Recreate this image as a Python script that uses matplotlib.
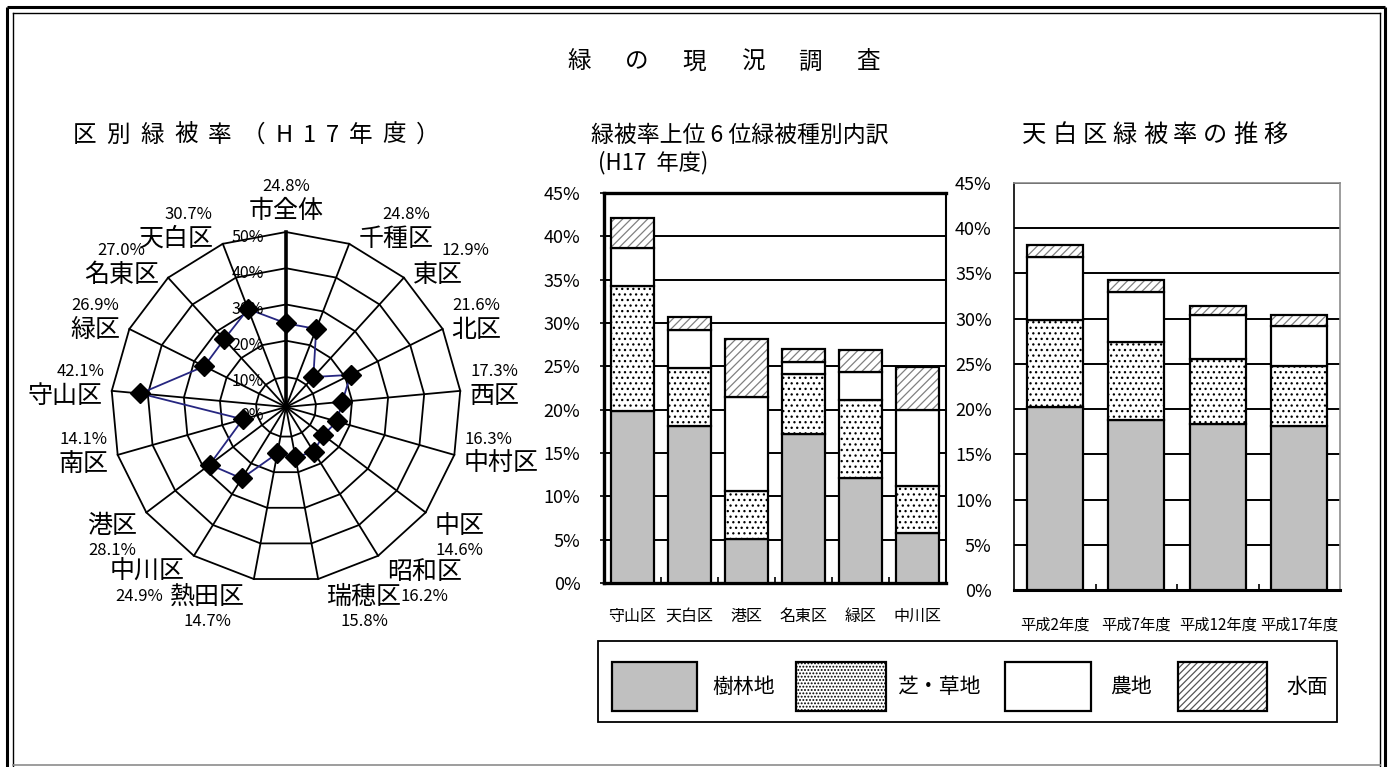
import numpy as np
import matplotlib
matplotlib.use('Agg')
import matplotlib.pyplot as plt
from matplotlib.patches import Rectangle

FONTS = ['Noto Sans CJK JP', 'DejaVu Sans']
plt.rcParams['font.family'] = FONTS
plt.rcParams['hatch.linewidth'] = 0.9
plt.rcParams['axes.unicode_minus'] = False

# ---------------- data ----------------
radar_categories = ['市全体', '千種区', '東区', '北区', '西区', '中村区', '中区', '昭和区',
                    '瑞穂区', '熱田区', '中川区', '港区', '南区', '守山区', '緑区', '名東区', '天白区']
radar_values = [24.8, 24.8, 12.9, 21.6, 17.3, 16.3, 14.6, 16.2,
                15.8, 14.7, 24.9, 28.1, 14.1, 42.1, 26.9, 27.0, 30.7]
radar_ticks = [0, 10, 20, 30, 40, 50]

top6_districts = ['守山区', '天白区', '港区', '名東区', '緑区', '中川区']
top6_forest = [19.9, 18.1, 5.1, 17.2, 12.1, 5.8]
top6_grass = [14.4, 6.7, 5.5, 6.9, 9.0, 5.4]
top6_farm = [4.3, 4.4, 10.9, 1.4, 3.2, 8.8]
top6_water = [3.5, 1.5, 6.6, 1.5, 2.6, 4.9]

tenpaku_years = ['平成2年度', '平成7年度', '平成12年度', '平成17年度']
tenpaku_forest = [20.2, 18.8, 18.4, 18.1]
tenpaku_grass = [9.6, 8.6, 7.1, 6.7]
tenpaku_farm = [7.0, 5.6, 4.9, 4.4]
tenpaku_water = [1.3, 1.3, 1.0, 1.2]

bar_ticks = [0, 5, 10, 15, 20, 25, 30, 35, 40, 45]
legend_labels = ['樹林地', '芝・草地', '農地', '水面']

main_title = '緑の現況調査'
radar_title = '区別緑被率（H17 年度）'
top6_title = '緑被率上位 6 位緑被種別内訳'
top6_subtitle = '(H17  年度)'
tenpaku_title = '天白区緑被率の推移'

FOREST_C = '#c0c0c0'
LINE_C = '#262680'

# ---------------- figure ----------------
W, H, DPI = 1392, 767, 100
fig = plt.figure(figsize=(W / DPI, H / DPI), dpi=DPI)
PT = 72 / DPI  # points per pixel


def fbox(x0, y0, x1, y1):
    return [x0 / W, 1 - y1 / H, (x1 - x0) / W, (y1 - y0) / H]


# ---------------- radar ----------------
cx, cy, R = 286, 407, 175
rax = fig.add_axes(fbox(cx - R, cy - R, cx + R, cy + R), projection='polar')
rax.set_theta_zero_location('N')
rax.set_theta_direction(-1)
R_MIN, R_MAX = 1.7, 50
rax.set_ylim(R_MIN, R_MAX)
rax.set_axis_off()

n = len(radar_categories)
theta = np.arange(n) * 2 * np.pi / n
closed = np.append(theta, theta[0])
for r in radar_ticks[1:]:
    rax.plot(closed, np.full(n + 1, r), color='black', lw=1.3, zorder=1, clip_on=False)
for i, t in enumerate(theta):
    rax.plot([t, t], [R_MIN, R_MAX], color='black', lw=2.6 if i == 0 else 1.3,
             zorder=1, clip_on=False)
vals = np.array(radar_values)
rax.plot(closed, np.append(vals, vals[0]), color=LINE_C, lw=1.3, zorder=3, clip_on=False)
rax.plot(theta, vals, ls='none', marker='D', ms=10, color='black', zorder=4, clip_on=False)

for v in radar_ticks:
    extra = -5 if v > 0 else -8
    rax.annotate(f'{v}%', xy=(0, max(v, R_MIN)), xytext=(-22 * PT, extra * PT),
                 textcoords='offset points', ha='right', va='center', fontsize=11.5,
                 annotation_clip=False, zorder=5)

# horizontal nudges (pixels) of the value labels relative to their district name
value_dx = {'千種区': 10, '東区': 28, '守山区': 15, '中村区': -12, '天白区': 12, '中川区': -8}

for i, (name, val) in enumerate(zip(radar_categories, radar_values)):
    t = theta[i]
    s, c = np.sin(t), np.cos(t)
    if abs(s) < 0.05:
        ha, va, dx, dy = 'center', 'bottom', 0, 8
    else:
        ha = 'left' if s > 0 else 'right'
        va = 'center'
        dx = 9 * np.sign(s)
        dy = c * 12 - 6
    name_t = rax.annotate(name, xy=(t, R_MAX), xytext=(dx * PT, dy * PT),
                          textcoords='offset points', ha=ha, va=va, fontsize=18,
                          annotation_clip=False)
    below = 6 <= i <= 11
    rax.annotate(f'{val:.1f}%', xy=(0.5, 0 if below else 1), xycoords=name_t,
                 xytext=(value_dx.get(name, 0) * PT, (-3 if below else 3) * PT),
                 textcoords='offset points',
                 ha='center', va='top' if below else 'bottom', fontsize=12,
                 annotation_clip=False)


# ---------------- stacked bars ----------------
def stacked_bars(ax, cats, forest, grass, farm, water, width):
    x = np.arange(len(cats))
    b = np.zeros(len(cats))
    ax.bar(x, forest, width, bottom=b, color=FOREST_C, edgecolor='black', lw=1.6, zorder=3)
    b = b + np.array(forest)
    ax.bar(x, grass, width, bottom=b, color='white', edgecolor='black', hatch='...',
           lw=1.6, zorder=3)
    b = b + np.array(grass)
    ax.bar(x, farm, width, bottom=b, color='white', edgecolor='black', lw=1.6, zorder=3)
    b = b + np.array(farm)
    ax.bar(x, water, width, bottom=b, color='white', edgecolor='#808080', hatch='////',
           lw=0, zorder=3)
    ax.bar(x, water, width, bottom=b, fill=False, edgecolor='black', lw=1.6, zorder=4)


def style(ax, cats, ylab_pad, xlab_pad, ytick_len, xfs):
    ax.set_ylim(0, 45)
    ax.set_yticks(bar_ticks)
    ax.set_yticklabels([f'{v}%' for v in bar_ticks], fontsize=13)
    ax.set_xlim(-0.5, len(cats) - 0.5)
    ax.set_xticks(np.arange(len(cats)))
    ax.set_xticklabels(cats, fontsize=xfs)
    ax.set_xticks(np.arange(len(cats) - 1) + 0.5, minor=True)
    ax.tick_params(axis='x', which='major', length=0, pad=xlab_pad)
    ax.tick_params(axis='x', which='minor', length=4, direction='in', width=1.2)
    ax.tick_params(axis='y', length=ytick_len, width=1.2, pad=ylab_pad)
    ax.yaxis.grid(True, color='black', lw=1.4)
    ax.set_axisbelow(True)


ax2 = fig.add_axes(fbox(604, 193, 946, 583))
stacked_bars(ax2, top6_districts, top6_forest, top6_grass, top6_farm, top6_water, 0.76)
style(ax2, top6_districts, 14, 18, 4 * PT, 11.5)
for side, lw in [('top', 2.4), ('left', 2.4), ('bottom', 2.4), ('right', 1.5)]:
    ax2.spines[side].set_linewidth(lw)
    ax2.spines[side].set_color('black')

ax3 = fig.add_axes(fbox(1014, 183, 1340, 590))
stacked_bars(ax3, tenpaku_years, tenpaku_forest, tenpaku_grass, tenpaku_farm,
             tenpaku_water, 0.69)
style(ax3, tenpaku_years, 16, 19, 0, 11)
ax3.spines['top'].set_color('#8c8c8c')
ax3.spines['right'].set_color('#8c8c8c')
ax3.spines['top'].set_linewidth(1.2)
ax3.spines['right'].set_linewidth(1.2)
ax3.spines['left'].set_linewidth(1.2)
ax3.spines['bottom'].set_linewidth(2.2)

# ---------------- overlay (pixel coordinates) ----------------
lax = fig.add_axes([0, 0, 1, 1])
lax.set_xlim(0, W)
lax.set_ylim(H, 0)
lax.set_axis_off()

# double frame
lax.plot([7, 1385], [7, 7], color='black', lw=2.2, solid_capstyle='butt')
lax.plot([7, 7], [7, 767], color='black', lw=2.2, solid_capstyle='butt')
lax.plot([1385, 1385], [7, 767], color='black', lw=2.2, solid_capstyle='butt')
lax.plot([13, 1380], [13, 13], color='black', lw=1.0)
lax.plot([13, 13], [13, 767], color='black', lw=1.0)
lax.plot([1380, 1380], [13, 767], color='black', lw=1.0)
lax.plot([13, 1380], [765, 765], color='#8c8c8c', lw=1.2)

renderer = fig.canvas.get_renderer()


def spaced(text, x0, x1, y, fs):
    ts = [lax.text(0, y, ch, fontsize=fs, ha='left', va='center') for ch in text]
    widths = [t.get_window_extent(renderer).width for t in ts]
    gap = (x1 - x0 - sum(widths)) / (len(ts) - 1)
    x = x0
    for t, w in zip(ts, widths):
        t.set_x(x)
        x += w + gap


spaced(main_title, 567, 880, 62, 17)
spaced(radar_title.replace(' ', ''), 73, 440, 135, 17)
lax.text(740, 135, top6_title, fontsize=16.5, ha='center', va='center')
spaced(tenpaku_title, 1022, 1288, 135, 17.5)
lax.text(598, 163, top6_subtitle, fontsize=16, ha='left', va='center')

# legend
lax.add_patch(Rectangle((598, 641), 1337 - 598, 722 - 641, fill=False,
                        edgecolor='black', lw=1.3))
patch_x = [612, 796, 1005, 1178]
patch_w = [85, 90, 86, 89]
text_x = [712, 898, 1110, 1286]
py0, ph = 662, 49
lax.add_patch(Rectangle((patch_x[0], py0), patch_w[0], ph, facecolor=FOREST_C,
                        edgecolor='black', lw=1.6))
lax.add_patch(Rectangle((patch_x[1], py0), patch_w[1], ph, facecolor='white',
                        edgecolor='black', hatch='.....', lw=1.6))
lax.add_patch(Rectangle((patch_x[2], py0), patch_w[2], ph, facecolor='white',
                        edgecolor='black', lw=1.6))
lax.add_patch(Rectangle((patch_x[3], py0), patch_w[3], ph, facecolor='white',
                        edgecolor='#555555', hatch='/////', lw=0))
lax.add_patch(Rectangle((patch_x[3], py0), patch_w[3], ph, fill=False,
                        edgecolor='black', lw=1.6))
for lbl, tx in zip(legend_labels, text_x):
    lax.text(tx, 687, lbl, fontsize=15, ha='left', va='center')

fig.savefig('out.png', dpi=DPI)
